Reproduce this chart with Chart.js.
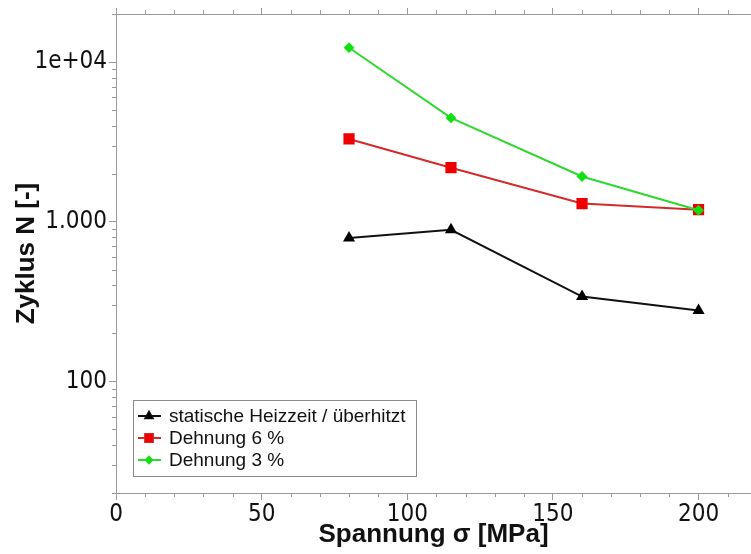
<!DOCTYPE html>
<html>
<head>
<meta charset="utf-8">
<script src="https://cdn.jsdelivr.net/npm/chart.js@4/dist/chart.umd.min.js"></script>
<style>
  html, body { margin: 0; padding: 0; background: #fff; }
</style>
</head>
<body>
<canvas id="lineChart" width="751" height="554"></canvas>
<script>
// data
var spannung = [80, 115, 160, 200];
var heizzeit = [790, 890, 340, 278];
var dehnung6 = [3300, 2180, 1300, 1190];
var dehnung3 = [12300, 4470, 1920, 1180];
var seriesNames = ['statische Heizzeit / überhitzt', 'Dehnung 6 %', 'Dehnung 3 %'];
var xTickValues = [0, 50, 100, 150, 200];
var yTickValues = [100, 1000, 10000];
var yTickText = ['100', '1.000', '1e+04'];

var axisColor = '#9a9a9a';
var tickFont = { family: "'Liberation Sans Narrow', 'DejaVu Sans Condensed', 'Liberation Sans', sans-serif", size: 24 };
var titleFont = { family: "'Liberation Sans', Arial, sans-serif", size: 26, weight: 'bold', lineHeight: 1 };

function points(ys) {
  return spannung.map(function(x, i) { return { x: x, y: ys[i] }; });
}

function noPadding(scale) {
  scale.paddingLeft = 0;
  scale.paddingRight = 0;
  scale.paddingTop = 0;
  scale.paddingBottom = 0;
}

// short unlabeled ticks between the major ones
var minorTicks = {
  id: 'minorTicks',
  afterDraw: function(chart) {
    var ctx = chart.ctx, a = chart.chartArea;
    var xs = chart.scales.x, ys = chart.scales.y;
    ctx.save();
    ctx.strokeStyle = axisColor;
    ctx.lineWidth = 1;
    ctx.beginPath();
    for (var v = 10; v <= xs.max; v += 10) {
      if (v % 50 === 0) continue;
      var px = Math.round(xs.getPixelForValue(v)) + 0.5;
      ctx.moveTo(px, a.bottom); ctx.lineTo(px, a.bottom + 4);
      ctx.moveTo(px, a.top); ctx.lineTo(px, a.top - 4);
    }
    for (var d = 10; d <= ys.max; d *= 10) {
      for (var m = 2; m < 10; m++) {
        var val = d * m;
        if (val < ys.min || val > ys.max) continue;
        var py = Math.round(ys.getPixelForValue(val)) + 0.5;
        ctx.moveTo(a.left, py); ctx.lineTo(a.left - 4, py);
      }
    }
    ctx.stroke();
    ctx.restore();
  }
};

// legend box inside the plot, bottom left
var boxLegend = {
  id: 'boxLegend',
  afterDraw: function(chart) {
    var ctx = chart.ctx, a = chart.chartArea;
    var order = [0, 1, 2];
    ctx.save();
    ctx.font = "19px 'Liberation Sans', Arial, sans-serif";
    var w = 0;
    order.forEach(function(i) { w = Math.max(w, ctx.measureText(seriesNames[i]).width); });
    var rowH = 22;
    var boxW = Math.round(w + 46), boxH = rowH * 3 + 10;
    var bx = a.left + 17, by = a.bottom - 17 - boxH;
    ctx.fillStyle = '#fff';
    ctx.fillRect(bx, by, boxW, boxH);
    ctx.strokeStyle = '#8a8a8a';
    ctx.lineWidth = 1;
    ctx.strokeRect(bx + 0.5, by + 0.5, boxW, boxH);
    order.forEach(function(i, r) {
      var ds = chart.data.datasets[i];
      var cy = by + 5 + rowH * r + rowH / 2;
      ctx.strokeStyle = ds.borderColor;
      ctx.lineWidth = 2;
      ctx.beginPath();
      ctx.moveTo(bx + 5, cy); ctx.lineTo(bx + 28, cy);
      ctx.stroke();
      Chart.helpers.drawPoint(ctx, {
        pointStyle: ds.pointStyle, radius: ds.pointRadius * 0.85, borderWidth: 1,
        rotation: 0
      }, bx + 16, cy);
      ctx.fillStyle = ds.pointBackgroundColor;
      ctx.fill();
      ctx.fillStyle = '#111';
      ctx.textBaseline = 'middle';
      ctx.fillText(seriesNames[i], bx + 36, cy + 1);
    });
    ctx.restore();
  }
};

var ctx = document.getElementById('lineChart').getContext('2d');
var myChart = new Chart(ctx, {
  type: 'line',
  data: {
    datasets: [{
      label: seriesNames[0],
      data: points(heizzeit),
      borderColor: '#111111',
      borderWidth: 2,
      pointStyle: 'triangle',
      pointRadius: 5,
      pointBackgroundColor: '#000000',
      pointBorderColor: '#000000',
      order: 2
    }, {
      label: seriesNames[1],
      data: points(dehnung6),
      borderColor: '#d42a2a',
      borderWidth: 2,
      pointStyle: 'rect',
      pointRadius: 6.5,
      pointBackgroundColor: '#ee0000',
      pointBorderColor: '#ee0000',
      order: 1
    }, {
      label: seriesNames[2],
      data: points(dehnung3),
      borderColor: '#2ed82e',
      borderWidth: 2,
      pointStyle: 'rectRot',
      pointRadius: 4,
      pointBackgroundColor: '#11e011',
      pointBorderColor: '#11e011',
      order: 0
    }]
  },
  options: {
    responsive: false,
    animation: false,
    devicePixelRatio: 1,
    layout: { padding: 0, autoPadding: false },
    plugins: {
      legend: { display: false },
      tooltip: { enabled: false }
    },
    scales: {
      x: {
        type: 'linear',
        position: 'bottom',
        min: 0,
        max: 218,
        afterBuildTicks: function(scale) {
          scale.ticks = xTickValues.map(function(v) { return { value: v }; });
        },
        afterFit: function(scale) { scale.height = 61; noPadding(scale); },
        grid: { drawOnChartArea: false, tickLength: 7, color: axisColor },
        border: { color: axisColor },
        ticks: { font: tickFont, color: '#111', padding: 0, maxRotation: 0 },
        title: { display: true, text: 'Spannung σ [MPa]', font: titleFont, color: '#111', padding: { top: 0, bottom: 6 } }
      },
      x2: {
        type: 'linear',
        position: 'top',
        min: 0,
        max: 218,
        afterBuildTicks: function(scale) {
          scale.ticks = xTickValues.map(function(v) { return { value: v }; });
        },
        afterFit: function(scale) { scale.height = 14; noPadding(scale); },
        grid: { drawOnChartArea: false, tickLength: 6, color: axisColor },
        border: { color: axisColor },
        ticks: { display: false }
      },
      y: {
        type: 'logarithmic',
        position: 'left',
        min: 20,
        max: 20000,
        afterBuildTicks: function(scale) {
          scale.ticks = yTickValues.map(function(v) { return { value: v }; });
        },
        afterFit: function(scale) { scale.width = 116; noPadding(scale); },
        grid: { drawOnChartArea: false, tickLength: 7, color: axisColor },
        border: { color: axisColor },
        ticks: {
          font: tickFont,
          color: '#111',
          padding: 2,
          callback: function(value) {
            var i = yTickValues.indexOf(value);
            return i >= 0 ? yTickText[i] : '';
          }
        },
        title: { display: true, text: 'Zyklus N [-]', font: titleFont, color: '#111', padding: { top: 14, bottom: 0 } }
      }
    }
  },
  plugins: [minorTicks, boxLegend]
});
</script>
</body>
</html>
